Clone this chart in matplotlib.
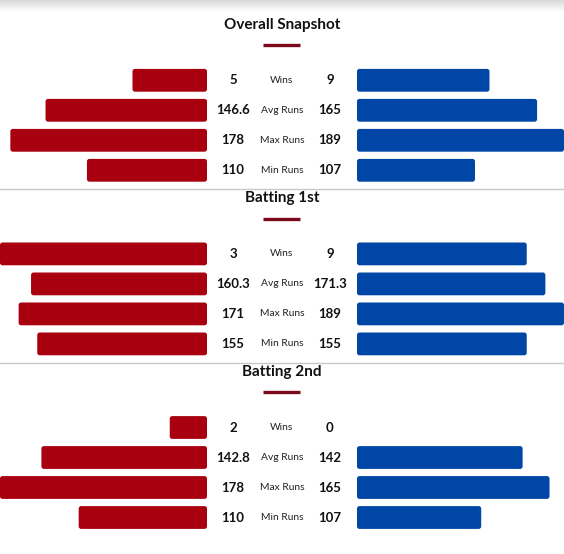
import numpy as np
import matplotlib
matplotlib.use('Agg')
import matplotlib.pyplot as plt
from matplotlib.patches import FancyBboxPatch

plt.rcParams['font.family'] = ['Lato', 'DejaVu Sans']

# 数据
sections = ['Overall Snapshot', 'Batting 1st', 'Batting 2nd']
stat_labels = ['Wins', 'Avg Runs', 'Max Runs', 'Min Runs']

red_values = [['5', '146.6', '178', '110'],
              ['3', '160.3', '171', '155'],
              ['2', '142.8', '178', '110']]
blue_values = [['9', '165', '189', '107'],
               ['9', '171.3', '189', '155'],
               ['0', '142', '165', '107']]

# 条形长度（占半宽的百分比，从图中读出）
red_pct = [[36, 78, 95, 58],
           [100, 85, 91, 82],
           [18, 80, 100, 62]]
blue_pct = [[64, 87, 100, 57],
            [82, 91, 100, 82],
            [0, 80, 93, 60]]

RED = '#a8000e'
BLUE = '#0046a6'
UNDERLINE = '#7c0a1c'

W, H = 564, 554
fig = plt.figure(figsize=(W / 100, H / 100), dpi=100)

# 像素坐标的覆盖轴，用来放文字和分隔线
over = fig.add_axes([0, 0, 1, 1])
over.set_xlim(0, W)
over.set_ylim(H, 0)
over.axis('off')

# 顶部灰色渐变阴影
grad = np.linspace(0.85, 1.0, 20).reshape(-1, 1)
over.imshow(grad, extent=(0, W, 12, 0), cmap='gray', vmin=0, vmax=1,
            aspect='auto', zorder=0)

first_row = 80.3
sec_step = 173.6
row_step = 30
half_w = 207
right_x0 = 357


def round_bars(ax, bars, radius_px=2.5):
    # 把矩形条换成圆角条
    x_per_px = 100 / half_w
    y_per_px = 1 / row_step
    for b in bars:
        w = b.get_width()
        if w == 0:
            b.remove()
            continue
        x0, y0 = b.get_x(), b.get_y()
        p = FancyBboxPatch((min(x0, x0 + w), y0), abs(w), b.get_height(),
                           boxstyle=f'round,pad=0,rounding_size={radius_px * x_per_px}',
                           mutation_aspect=y_per_px / x_per_px,
                           fc=b.get_facecolor(), ec='none')
        b.remove()
        ax.add_patch(p)


for s, title in enumerate(sections):
    top = first_row + s * sec_step
    ax_top = top - row_step / 2
    ax_h = row_step * 4

    # 标题和下划线
    over.text(282, top - 55.5, title, ha='center', va='center',
              fontsize=11, fontweight='bold', color='#111111')
    over.plot([263, 300], [top - 35.3, top - 35.3], color=UNDERLINE,
              lw=2.4, solid_capstyle='butt')

    if s > 0:
        over.plot([0, W], [top - 64.5, top - 64.5], color='#c8c8c8', lw=1)

    rect_y = 1 - (ax_top + ax_h) / H
    ax_l = fig.add_axes([0, rect_y, half_w / W, ax_h / H])
    ax_r = fig.add_axes([right_x0 / W, rect_y, half_w / W, ax_h / H])

    rows = np.arange(len(stat_labels))
    bl = ax_l.barh(rows, red_pct[s], height=0.76, color=RED)
    br = ax_r.barh(rows, blue_pct[s], height=0.76, color=BLUE)

    ax_l.set_xlim(100, 0)
    ax_r.set_xlim(0, 100)
    for ax in (ax_l, ax_r):
        ax.set_ylim(3.5, -0.5)
        ax.axis('off')
    round_bars(ax_l, bl)
    round_bars(ax_r, br)

    for i, lab in enumerate(stat_labels):
        yc = top + i * row_step
        over.text(233, yc, red_values[s][i], ha='center', va='center',
                  fontsize=9.5, fontweight='bold', color='#111111')
        over.text(330, yc, blue_values[s][i], ha='center', va='center',
                  fontsize=9.5, fontweight='bold', color='#111111')
        over.text(282, yc, lab, ha='center', va='center',
                  fontsize=7.4, color='#222222')

fig.savefig('out.png', dpi=100)
